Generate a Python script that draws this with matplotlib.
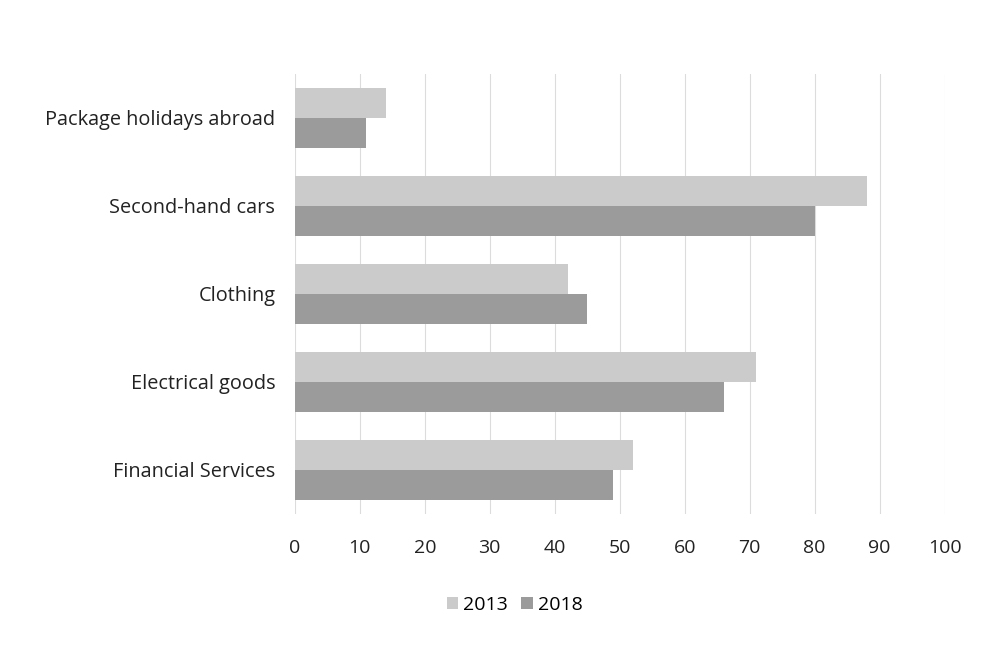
import matplotlib.pyplot as plt
import numpy as np

# данні з графіка
categories = ['Package holidays abroad', 'Second-hand cars', 'Clothing',
              'Electrical goods', 'Financial Services']
values_2013 = [14, 88, 42, 71, 52]
values_2018 = [11, 80, 45, 66, 49]
x_ticks = [0, 10, 20, 30, 40, 50, 60, 70, 80, 90, 100]

plt.rcParams['font.family'] = ['Open Sans', 'DejaVu Sans']

fig = plt.figure(figsize=(9.86, 6.47), dpi=100)
ax = fig.add_axes([0.299, 0.206, 0.659, 0.68])

y = np.arange(len(categories))
h = 0.34
ax.barh(y - h / 2, values_2013, height=h, color='#cbcbcb', label='2013', zorder=2)
ax.barh(y + h / 2, values_2018, height=h, color='#9b9b9b', label='2018', zorder=2)

ax.set_ylim(len(categories) - 0.5, -0.5)
ax.set_xlim(0, 100)
ax.set_yticks(y)
ax.set_yticklabels(categories, fontsize=14.3, color='#222222')
ax.set_xticks(x_ticks)
ax.set_xticklabels([str(t) for t in x_ticks], fontsize=14, color='#222222')
ax.tick_params(axis='both', length=0)
ax.tick_params(axis='x', pad=18)
ax.tick_params(axis='y', pad=14)

ax.grid(axis='x', color='#dcdcdc', linewidth=0.8, zorder=0)
for s in ax.spines.values():
    s.set_visible(False)

fig.legend(loc='center', bbox_to_anchor=(0.522, 0.065), ncol=2, frameon=False,
           fontsize=14, handlelength=0.6, handleheight=0.6, handletextpad=0.25,
           columnspacing=0.7)

plt.savefig('out.png', dpi=100)
